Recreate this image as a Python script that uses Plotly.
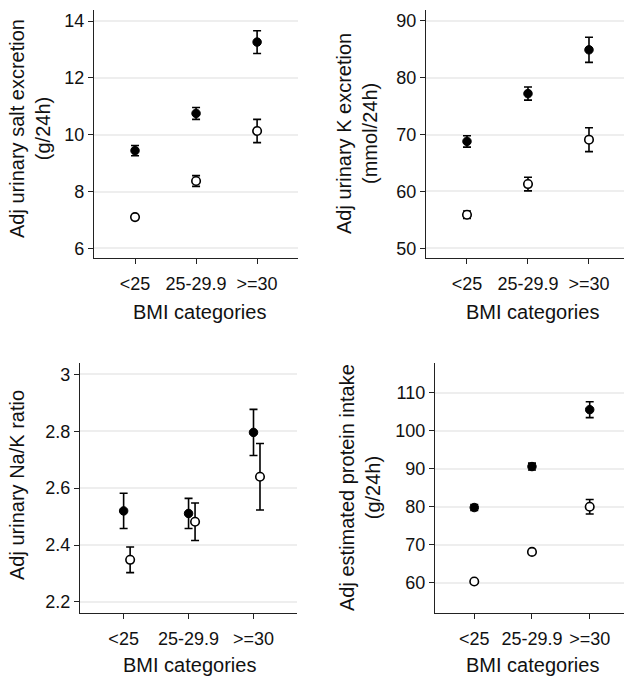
import plotly.graph_objects as go

categories = ["<25", "25-29.9", ">=30"]

# Panel 1: Adj urinary salt excretion (g/24h)
salt_filled = [9.44, 10.75, 13.26]
salt_filled_err = [0.18, 0.21, 0.40]
salt_open = [7.10, 8.37, 10.13]
salt_open_err = [0.06, 0.19, 0.41]

# Panel 2: Adj urinary K excretion (mmol/24h)
k_filled = [68.8, 77.2, 84.9]
k_filled_err = [1.0, 1.15, 2.2]
k_open = [55.9, 61.3, 69.1]
k_open_err = [0.65, 1.2, 2.1]

# Panel 3: Adj urinary Na/K ratio
nak_filled = [2.520, 2.511, 2.796]
nak_filled_err = [0.062, 0.053, 0.081]
nak_open = [2.348, 2.482, 2.640]
nak_open_err = [0.045, 0.066, 0.117]

# Panel 4: Adj estimated protein intake (g/24h)
prot_filled = [79.8, 90.6, 105.6]
prot_filled_err = [0.8, 0.9, 2.1]
prot_open = [60.3, 68.1, 80.0]
prot_open_err = [0.3, 0.5, 1.9]

y_titles = ["Adj urinary salt excretion<br>(g/24h)",
            "Adj urinary K excretion<br>(mmol/24h)",
            "Adj urinary Na/K ratio",
            "Adj estimated protein intake<br>(g/24h)"]
x_title = "BMI categories"

y_ticks = [[6, 8, 10, 12, 14], [50, 60, 70, 80, 90],
           [2.2, 2.4, 2.6, 2.8, 3.0], [60, 70, 80, 90, 100, 110]]
y_ticktext = [None, None, ["2.2", "2.4", "2.6", "2.8", "3"], None]

W, H = 624, 678
FONT = "Liberation Sans, Arial, sans-serif"

# layout geometry (pixels)
panels = [
    dict(x0=94, x1=298, y0=10, y1=258, xr=[0.328, 3.67], yr=[5.66, 14.39], off=0.0),
    dict(x0=426, x1=624, y0=10, y1=258, xr=[0.328, 3.574], yr=[48.3, 91.9], off=0.0),
    dict(x0=80, x1=297, y0=363, y1=613, xr=[0.328, 3.67], yr=[2.161, 3.04], off=0.10),
    dict(x0=435, x1=624, y0=363, y1=613, xr=[0.32, 3.594], yr=[52.0, 117.9], off=0.0),
]
data = [
    (salt_filled, salt_filled_err, salt_open, salt_open_err),
    (k_filled, k_filled_err, k_open, k_open_err),
    (nak_filled, nak_filled_err, nak_open, nak_open_err),
    (prot_filled, prot_filled_err, prot_open, prot_open_err),
]
ytitle_pos = [(30, 129), (357, 134), (17, 485), (360, 487)]
xtitle_pos = [(199, 312), (532, 312), (189, 665), (532, 665)]

fig = go.Figure()
xpos = [1, 2, 3]
for i, (p, d) in enumerate(zip(panels, data)):
    n = "" if i == 0 else str(i + 1)
    xa, ya = "x" + n, "y" + n
    f, fe, o, oe = d
    err_style = dict(type="data", thickness=1.6, width=4, color="black")
    fig.add_trace(go.Scatter(
        x=xpos, y=f, mode="markers", xaxis=xa, yaxis=ya, showlegend=False,
        error_y=dict(array=fe, **err_style),
        marker=dict(symbol="circle", size=8.5, color="black", line=dict(color="black", width=1)),
    ))
    fig.add_trace(go.Scatter(
        x=[v + p["off"] for v in xpos], y=o, mode="markers", xaxis=xa, yaxis=ya, showlegend=False,
        error_y=dict(array=oe, **err_style),
        marker=dict(symbol="circle", size=8.5, color="white", line=dict(color="black", width=1.6)),
    ))
    axcommon = dict(showline=True, linecolor="#222222", linewidth=1.4, ticks="outside",
                    ticklen=5, tickwidth=1.2, tickcolor="#222222", automargin=False,
                    tickfont=dict(family=FONT, size=18, color="#111111"), zeroline=False)
    fig.update_layout(**{
        "xaxis" + n: dict(domain=[p["x0"] / W, p["x1"] / W], range=p["xr"], anchor=ya,
                          tickvals=xpos, ticktext=categories, showgrid=False,
                          ticklabelstandoff=4, **axcommon),
        "yaxis" + n: dict(domain=[1 - p["y1"] / H, 1 - p["y0"] / H], range=p["yr"], anchor=xa,
                          tickvals=y_ticks[i], ticktext=y_ticktext[i], showgrid=True,
                          gridcolor="#eeeeee", gridwidth=1.5, **axcommon),
    })
    tx, ty = ytitle_pos[i]
    fig.add_annotation(text=y_titles[i], x=tx / W, y=1 - ty / H, xref="paper", yref="paper",
                       textangle=-90, showarrow=False, xanchor="center", yanchor="middle",
                       font=dict(family=FONT, size=20, color="#111111"))
    bx, by = xtitle_pos[i]
    fig.add_annotation(text=x_title, x=bx / W, y=1 - by / H, xref="paper", yref="paper",
                       showarrow=False, xanchor="center", yanchor="middle",
                       font=dict(family=FONT, size=20, color="#111111"))

fig.update_layout(width=W, height=H, margin=dict(l=0, r=0, t=0, b=0),
                  paper_bgcolor="white", plot_bgcolor="white")
fig.write_html("out.html", config={"displayModeBar": False},
               post_script="document.body.style.margin='0';document.body.style.overflow='hidden';")
